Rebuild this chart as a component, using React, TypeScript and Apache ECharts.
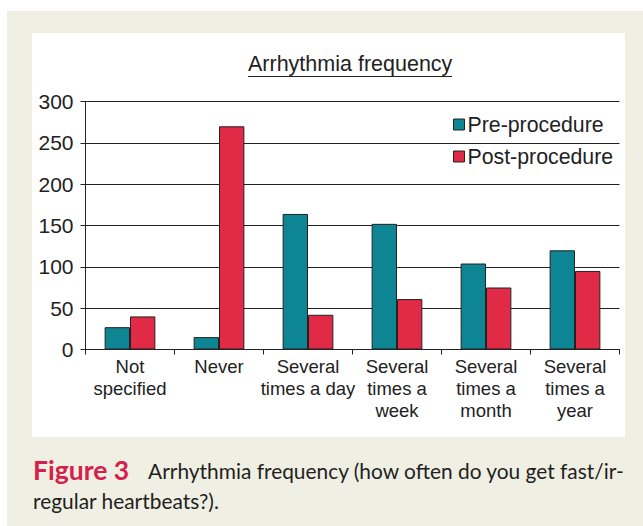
import React, { useEffect, useRef } from "react";
import * as echarts from "echarts";

const categories = [
  "Not\nspecified",
  "Never",
  "Several\ntimes a day",
  "Several\ntimes a\nweek",
  "Several\ntimes a\nmonth",
  "Several\ntimes a\nyear",
];
const preProcedure = [27, 15, 164, 152, 104, 120];
const postProcedure = [40, 270, 42, 61, 75, 95];
const seriesNames = ["Pre-procedure", "Post-procedure"];
const chartTitle = "Arrhythmia frequency";
const captionLabel = "Figure 3";
const captionLine1 = "Arrhythmia frequency (how often do you get fast/ir-";
const captionLine2 = "regular heartbeats?).";

export default function App() {
  const ref = useRef<HTMLDivElement>(null);
  useEffect(() => {
    if (!ref.current) return;
    const chart = echarts.init(ref.current, null, { renderer: "svg" });
    const font = "'Liberation Sans', Arial, sans-serif";
    chart.setOption({
      animation: false,
      backgroundColor: "#ffffff",
      textStyle: { fontFamily: font },
      title: {
        text: chartTitle,
        left: 248,
        top: 53,
        padding: 0,
        textStyle: { fontSize: 21.5, fontWeight: "normal", color: "#222", fontFamily: font },
      },
      legend: {
        orient: "vertical",
        left: 453,
        top: 114,
        padding: 0,
        itemWidth: 11,
        itemHeight: 11,
        itemGap: 11,
        icon: "rect",
        itemStyle: { borderColor: "#222", borderWidth: 1 },
        textStyle: { fontSize: 21.3, color: "#222", fontFamily: font, padding: [0, 0, 0, -2] },
        data: seriesNames,
      },
      grid: { left: 85.5, right: 23.5, top: 101.5, bottom: 176.5, containLabel: false },
      xAxis: {
        type: "category",
        data: categories,
        axisLine: { lineStyle: { color: "#222", width: 1 } },
        axisTick: { show: true, length: 5, lineStyle: { color: "#222" } },
        axisLabel: { fontSize: 18.5, lineHeight: 22, color: "#222", margin: 6, interval: 0, fontFamily: font },
        splitLine: { show: false },
      },
      yAxis: {
        type: "value",
        min: 0,
        max: 300,
        interval: 50,
        axisLine: { show: true, lineStyle: { color: "#222", width: 1 } },
        axisTick: { show: true, length: 5, lineStyle: { color: "#222" } },
        axisLabel: { fontSize: 21, color: "#222", margin: 12, fontFamily: font },
        splitLine: { show: true, lineStyle: { color: "#222", width: 1 } },
      },
      series: [
        {
          name: seriesNames[0],
          type: "bar",
          data: preProcedure,
          barGap: "0%",
          barCategoryGap: "43%",
          itemStyle: { color: "#0d8593", borderColor: "#222", borderWidth: 1 },
        },
        {
          name: seriesNames[1],
          type: "bar",
          data: postProcedure,
          barGap: "0%",
          barCategoryGap: "43%",
          itemStyle: { color: "#e12a45", borderColor: "#222", borderWidth: 1 },
        },
      ],
      graphic: [
        {
          type: "rect",
          z: -100,
          silent: true,
          shape: { x: 7, y: 11, width: 636, height: 515 },
          style: { fill: "#efefe4" },
        },
        {
          type: "rect",
          z: -90,
          silent: true,
          shape: { x: 32, y: 33, width: 593, height: 404 },
          style: { fill: "#ffffff" },
        },
        {
          type: "line",
          z: 10,
          silent: true,
          shape: { x1: 248, y1: 76.5, x2: 452, y2: 76.5 },
          style: { stroke: "#222", lineWidth: 1 },
        },
        {
          type: "text",
          z: 10,
          left: 33,
          top: 455,
          style: {
            text: "{b|" + captionLabel + "}" + captionLine1 + "\n" + captionLine2,
            fontFamily: "Lato, 'Open Sans', sans-serif",
            fontSize: 20.9,
            lineHeight: 30,
            fill: "#231f20",
            rich: {
              b: {
                fontFamily: "Lato, 'Open Sans', sans-serif",
                fontSize: 26.5,
                fontWeight: "bold",
                fill: "#d6204c",
                lineHeight: 30,
                padding: [0, 19, 0, 0],
              },
            },
          },
        },
      ],
    });
    return () => chart.dispose();
  }, []);
  return (
    <div
      ref={ref}
      style={{ position: "absolute", left: 0, top: 0, width: 643, height: 526 }}
    />
  );
}
